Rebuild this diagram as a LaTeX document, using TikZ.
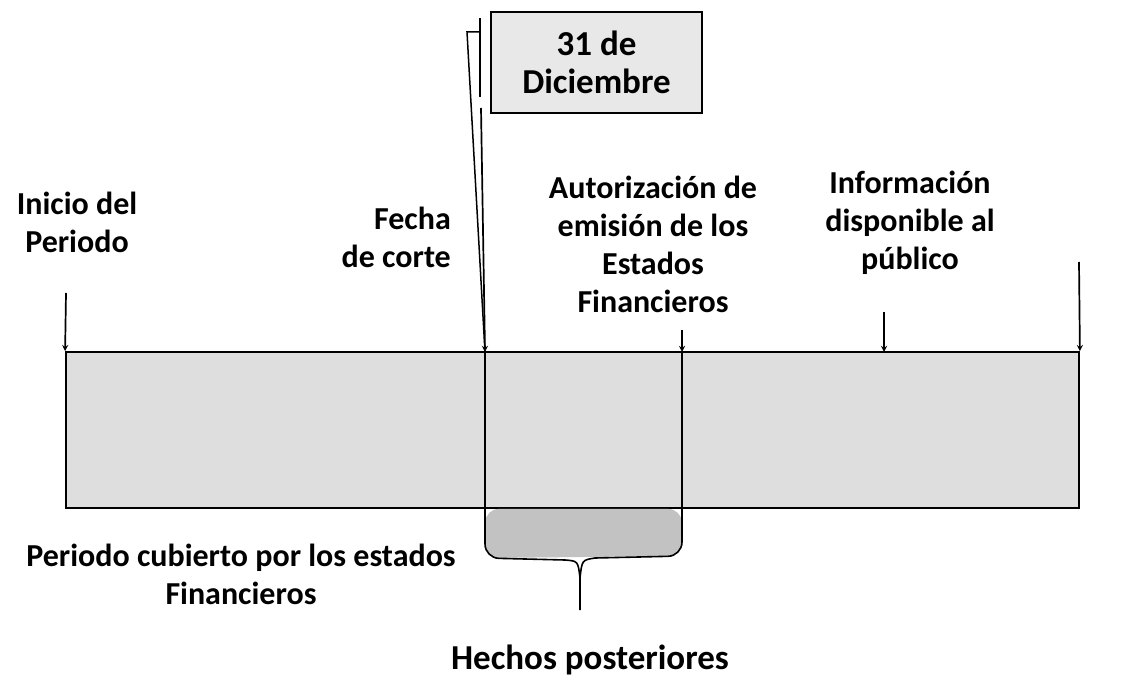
\documentclass[tikz,border=0pt]{standalone}
\usepackage{fontspec}
\setmainfont{Carlito}
\usetikzlibrary{arrows}

\begin{document}
\begin{tikzpicture}[x=1pt,y=-1pt,
    etiqueta/.style={font=\bfseries\fontsize{32}{38}\selectfont,align=center,inner sep=0pt},
    grande/.style={font=\bfseries\fontsize{35}{38}\selectfont,align=center,inner sep=0pt},
    flecha/.style={-stealth,line width=1.7pt},
    linea/.style={line width=1.6pt}]
  \useasboundingbox (0,0) rectangle (1121,679);

  % periodo cubierto
  \node[draw,line width=1.8pt,fill=gray!26,minimum width=1013pt,minimum height=156pt,inner sep=0pt]
        (periodo) at (572.5,430) {};
  \coordinate (corte) at (485,352);
  \coordinate (autor) at (682,352);
  \coordinate (info) at (884,352);

  % hechos posteriores
  \fill[gray!48,rounded corners=14pt] (corte|-periodo.south) -- (485,558) -- (682,556) -- (autor|-periodo.south) -- cycle;
  \draw[linea,rounded corners=14pt] (corte) -- (485,558) -- (565,560);
  \draw[linea,rounded corners=14pt] (autor) -- (682,556) -- (595,558);
  \draw[linea] (565,560) .. controls (578,561) .. (580,578) -- (580,610) coordinate (hechos-punta);
  \draw[linea] (595,558) .. controls (582,560) .. (580,578);

  \node[draw,line width=2.8pt,fill=gray!18,minimum width=211pt,minimum height=101pt,
        grande] (dic) at (596.5,62.5) {31 de\\Diciembre};

  % flechas
  \coordinate (ini-a) at (66,293);
  \coordinate (fin-a) at (1079,262);
  \coordinate (autor-a) at (682,330);
  \coordinate (info-a) at (884,312);
  \path[flecha]
    (ini-a) edge (periodo.north west)
    (fin-a) edge (periodo.north east)
    (autor-a) edge (autor)
    (info-a) edge (info)
    (481,108) edge (corte);
  \draw[line width=1.5pt] (480,18) -- (480,97);
  \draw[line width=1.5pt] (480,32) -- (467,32) -- (corte);

  % textos
  \node[etiqueta] (inicio) at (77,222) {Inicio del\\Periodo};
  \node[etiqueta,align=right,anchor=east] (fecha) at (451,237) {Fecha\\de corte};
  \node[etiqueta] (autorizacion) at (653,244) {Autorización de\\emisión de los\\Estados\\Financieros};
  \node[etiqueta] (informacion) at (910,223) {Información\\disponible al\\público};
  \node[etiqueta] (cubierto) at (241,574) {Periodo cubierto por los estados\\Financieros};
  \node[grande] (hechos) at (590,660) {Hechos posteriores};
\end{tikzpicture}
\end{document}
